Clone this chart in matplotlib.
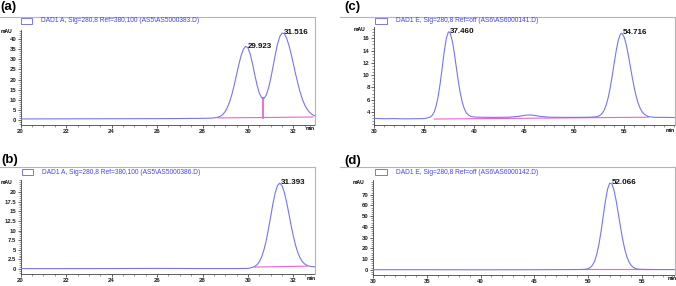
import numpy as np
import matplotlib.pyplot as plt
from matplotlib.patches import Rectangle
from matplotlib.lines import Line2D
from matplotlib.ticker import FixedLocator, FuncFormatter

# ---- data ----
# (a) racemic, two peaks
a_time = [20.0, 22.0, 24.0, 26.0, 27.0, 28.0, 28.4, 28.6, 28.7, 28.8, 28.9, 29.0, 29.1, 29.2,
          29.3, 29.4, 29.5, 29.6, 29.7, 29.8, 29.9, 30.0, 30.1, 30.2, 30.3, 30.4, 30.5, 30.6,
          30.7, 30.8, 30.9, 31.0, 31.1, 31.2, 31.3, 31.4, 31.5, 31.6, 31.7, 31.8, 31.9, 32.0,
          32.1, 32.2, 32.3, 32.4, 32.5, 32.6, 32.7, 32.8, 32.9, 33.0]
a_signal = [0.5, 0.55, 0.6, 0.65, 0.7, 0.8, 0.9, 1.16, 1.45, 1.95, 2.8, 4.2, 6.3, 9.2,
            12.9, 17.5, 22.5, 27.6, 31.9, 35.1, 36.46, 35.7, 32.6, 27.9, 22.4, 17.3, 13.3, 11.0,
            10.6, 12.2, 15.6, 20.4, 26.2, 32.2, 37.5, 41.3, 43.05, 42.7, 40.6, 37.1, 32.7, 27.7,
            22.6, 17.9, 13.6, 10.1, 7.35, 5.4, 3.9, 2.9, 2.2, 1.8]
a_peaks = [29.923, 31.516]
a_base_time = [28.7, 32.85]
a_base_signal = [1.0, 1.45]
a_drop_time = 30.68

# (b) one peak
b_time = [20.0, 22.0, 24.0, 26.0, 28.0, 29.5, 30.0, 30.2, 30.3, 30.4, 30.5, 30.6, 30.7, 30.8,
          30.9, 31.0, 31.1, 31.2, 31.3, 31.4, 31.5, 31.6, 31.7, 31.8, 31.9, 32.0, 32.1, 32.2,
          32.3, 32.4, 32.5, 32.6, 32.7, 32.8, 33.0]
b_signal = [0.1, 0.1, 0.12, 0.15, 0.12, 0.12, 0.15, 0.4, 0.67, 1.1, 1.9, 3.1, 4.9, 7.3,
            10.3, 13.6, 17.0, 19.8, 21.7, 22.3, 21.65, 19.9, 17.4, 14.4, 11.3, 8.45, 6.05, 4.15,
            2.8, 1.85, 1.29, 0.94, 0.74, 0.64, 0.55]
b_peaks = [31.393]
b_base_time = [30.3, 32.6]
b_base_signal = [0.5, 0.75]

# (c) racemic, two peaks
c_time = [30, 31, 32, 33, 34, 35, 35.6, 35.8, 36.0, 36.2, 36.4, 36.6, 36.8, 37.0, 37.2, 37.4,
          37.5, 37.6, 37.8, 38.0, 38.2, 38.4, 38.6, 38.8, 39.0, 39.2, 39.4, 39.7, 40.0, 40.5,
          42, 43.5, 44.5, 45.0, 45.5, 46.0, 46.5, 47.5, 49, 50.5, 51.5, 52.2, 52.4, 52.6, 52.8,
          53.0, 53.2, 53.4, 53.6, 53.8, 54.0, 54.2, 54.4, 54.6, 54.7, 54.8, 55.0, 55.2, 55.4,
          55.6, 55.8, 56.0, 56.2, 56.4, 56.6, 56.8, 57.0, 57.4, 58, 59, 60]
c_signal = [2.95, 2.9, 2.92, 2.88, 2.9, 2.92, 3.17, 3.47, 4.03, 5.08, 6.64, 8.8, 11.34, 13.92,
            15.96, 17.01, 17.05, 16.8, 15.58, 13.6, 11.3, 9.02, 7.05, 5.57, 4.53, 3.87, 3.51, 3.26,
            3.17, 3.15, 3.12, 3.15, 3.3, 3.45, 3.52, 3.45, 3.3, 3.15, 3.12, 3.12, 3.15, 3.22,
            3.31, 3.49, 3.81, 4.35, 5.19, 6.41, 8.02, 9.96, 12.06, 14.08, 15.69, 16.64, 16.8,
            16.75, 16.13, 14.92, 13.28, 11.43, 9.58, 7.89, 6.47, 5.36, 4.54, 3.99, 3.63, 3.25,
            3.13, 3.12, 3.1]
c_peaks = [37.460, 54.716]
c_base_time = [36.0, 57.4]
c_base_signal = [2.85, 3.15]

# (d) one peak
d_time = [30, 35, 40, 45, 48, 49.4, 49.6, 49.8, 50.0, 50.2, 50.4, 50.6, 50.8, 51.0, 51.2,
          51.4, 51.6, 51.8, 52.0, 52.2, 52.4, 52.6, 52.8, 53.0, 53.2, 53.4, 53.6, 53.8, 54.0,
          54.2, 54.4, 54.6, 54.8, 55.2, 56, 57, 58]
d_signal = [0.0, 0.0, -0.1, 0.0, 0.1, 0.2, 0.3, 0.5, 1.0, 2.05, 4.2, 8.0, 14.4, 23.7, 35.9,
            50.1, 64.0, 75.1, 80.8, 80.1, 74.2, 64.5, 52.5, 40.0, 28.6, 19.1, 12.0, 7.1, 4.0,
            2.15, 1.14, 0.62, 0.38, 0.22, 0.15, 0.1, 0.1]
d_peaks = [52.066]
d_base_time = [49.4, 55.9]
d_base_signal = [0.3, 0.3]

a_legend = r"DAD1 A, Sig=280,8 Ref=380,100 (AS5\AS5000383.D)"
b_legend = r"DAD1 A, Sig=280,8 Ref=380,100 (AS5\AS5000386.D)"
c_legend = r"DAD1 E, Sig=280,8 Ref=off (AS6\AS6000141.D)"
d_legend = r"DAD1 E, Sig=280,8 Ref=off (AS6\AS6000142.D)"

a_yticks = [0, 5, 10, 15, 20, 25, 30, 35, 40]
b_yticks = [0, 2.5, 5, 7.5, 10, 12.5, 15, 17.5, 20]
c_yticks = [4, 6, 8, 10, 12, 14, 16]
d_yticks = [0, 10, 20, 30, 40, 50, 60, 70]
ab_xticks = [20, 22, 24, 26, 28, 30, 32]
cd_xticks = [30, 35, 40, 45, 50, 55]

plt.rcParams['font.family'] = ['Liberation Sans', 'DejaVu Sans']

W, H = 676, 286
fig = plt.figure(figsize=(W / 100, H / 100), dpi=100)

CURVE = '#7676f0'
PINK = '#f060d8'
FRAME = '#b4b4b4'
TXT_BLUE = '#4646e8'


def fx(x):
    return x / W


def fy(y):
    return 1 - y / H


def draw_panel(t, s, peaks, base_t, base_s, legend, label,
               rect, xlim, ylim, yticks, yminor, xticks, xminor, spine_top,
               frame_left, box, text_xy, label_xy, mau_val, min_xy, drop=None):
    left, right, top, bottom = rect
    ax = fig.add_axes([fx(left), fy(bottom), (right - left) / W, (bottom - top) / H])
    ax.set_xlim(*xlim)
    ax.set_ylim(*ylim)
    ax.patch.set_alpha(0)

    ax.plot(t, s, color=CURVE, lw=0.8, zorder=3)
    ax.plot(base_t, base_s, color=PINK, lw=0.8, zorder=2)
    if drop is not None:
        ax.plot([drop, drop], [np.interp(drop, base_t, base_s), np.interp(drop, t, s)],
                color=PINK, lw=1.3, zorder=2)

    for p in peaks:
        ax.annotate(f"{p:.3f}", (p, np.interp(p, t, s)), xytext=(1, 0.5),
                    textcoords='offset points', ha='left', va='center',
                    fontsize=5.8, fontweight='bold', color='#111111', zorder=4)

    for side in ['top', 'right']:
        ax.spines[side].set_visible(False)
    ax.spines['left'].set_bounds(ylim[0], spine_top)
    for side in ['left', 'bottom']:
        ax.spines[side].set_color('#444444')
        ax.spines[side].set_linewidth(0.6)

    ax.yaxis.set_major_locator(FixedLocator(yticks))
    ax.yaxis.set_minor_locator(FixedLocator(yminor))
    ax.xaxis.set_major_locator(FixedLocator(xticks))
    ax.xaxis.set_minor_locator(FixedLocator(xminor))
    fmt = FuncFormatter(lambda v, pos: f"{v:g}")
    ax.yaxis.set_major_formatter(fmt)
    ax.xaxis.set_major_formatter(fmt)
    ax.tick_params(which='major', length=2.2, width=0.5, pad=1, labelsize=4.3, colors='#222222')
    ax.tick_params(which='minor', length=1.2, width=0.4, colors='#444444')
    for lab in ax.get_xticklabels() + ax.get_yticklabels():
        lab.set_fontweight('bold')

    ax.text(-0.03, mau_val, "mAU", transform=ax.get_yaxis_transform(), ha='right',
            va='center', fontsize=3.6, fontweight='bold')
    fig.text(fx(min_xy[0]), fy(min_xy[1]), "min", ha='left', va='center', fontsize=3.6,
             fontweight='bold')

    # chemstation frame lines (top and right)
    fig.add_artist(Line2D([fx(frame_left), fx(right)], [fy(top), fy(top)],
                          color=FRAME, lw=0.8))
    fig.add_artist(Line2D([fx(right), fx(right)], [fy(top), fy(bottom)],
                          color=FRAME, lw=0.8))

    # legend entry
    x0, y0, x1, y1 = box
    fig.add_artist(Rectangle((fx(x0), fy(y1)), (x1 - x0) / W, (y1 - y0) / H,
                             fill=False, edgecolor=CURVE, lw=0.7))
    fig.text(fx(text_xy[0]), fy(text_xy[1]), legend, ha='left', va='center',
             fontsize=4.8, color=TXT_BLUE)

    fig.text(fx(label_xy[0]), fy(label_xy[1]), label, ha='left', va='center',
             fontsize=9.5, fontweight='bold')
    return ax


draw_panel(a_time, a_signal, a_peaks, a_base_time, a_base_signal, a_legend, "(a)",
           rect=(20.7, 315, 17, 125), xlim=(20, 32.95), ylim=(-2.5, 51.0),
           yticks=a_yticks, yminor=np.arange(-2, 44.5, 1),
           xticks=ab_xticks, xminor=np.arange(20, 33, 0.5), spine_top=44.6,
           frame_left=0, box=(21, 18, 32, 24), text_xy=(41, 21), label_xy=(0, 7),
           mau_val=44, min_xy=(306, 128.5), drop=a_drop_time)

draw_panel(b_time, b_signal, b_peaks, b_base_time, b_base_signal, b_legend, "(b)",
           rect=(20.7, 315, 167, 273.7), xlim=(20, 32.95), ylim=(-1.22, 26.5),
           yticks=b_yticks, yminor=np.arange(-1, 23.1, 0.5),
           xticks=ab_xticks, xminor=np.arange(20, 33, 0.5), spine_top=23,
           frame_left=0, box=(21.7, 169, 33.3, 174.7), text_xy=(41.7, 172), label_xy=(1, 160.5),
           mau_val=22.5, min_xy=(307, 278))

draw_panel(c_time, c_signal, c_peaks, c_base_time, c_base_signal, c_legend, "(c)",
           rect=(374.3, 675, 16.7, 125), xlim=(30, 60.07), ylim=(1.88, 19.52),
           yticks=c_yticks, yminor=np.arange(2, 17.6, 0.5),
           xticks=cd_xticks, xminor=np.arange(30, 60.1, 1), spine_top=17.8,
           frame_left=340, box=(375, 18, 387, 24), text_xy=(396, 21), label_xy=(344.7, 7),
           mau_val=17.4, min_xy=(666, 130))

draw_panel(d_time, d_signal, d_peaks, d_base_time, d_base_signal, d_legend, "(d)",
           rect=(373, 675, 167, 274.7), xlim=(30, 58.07), ylim=(-4.67, 95.85),
           yticks=d_yticks, yminor=np.arange(-4, 84, 2),
           xticks=cd_xticks, xminor=np.arange(30, 58.1, 1), spine_top=83.7,
           frame_left=340, box=(375, 169, 387, 175), text_xy=(396, 172), label_xy=(344.7, 161),
           mau_val=81.6, min_xy=(668, 279))

fig.savefig("out.png", dpi=100)
